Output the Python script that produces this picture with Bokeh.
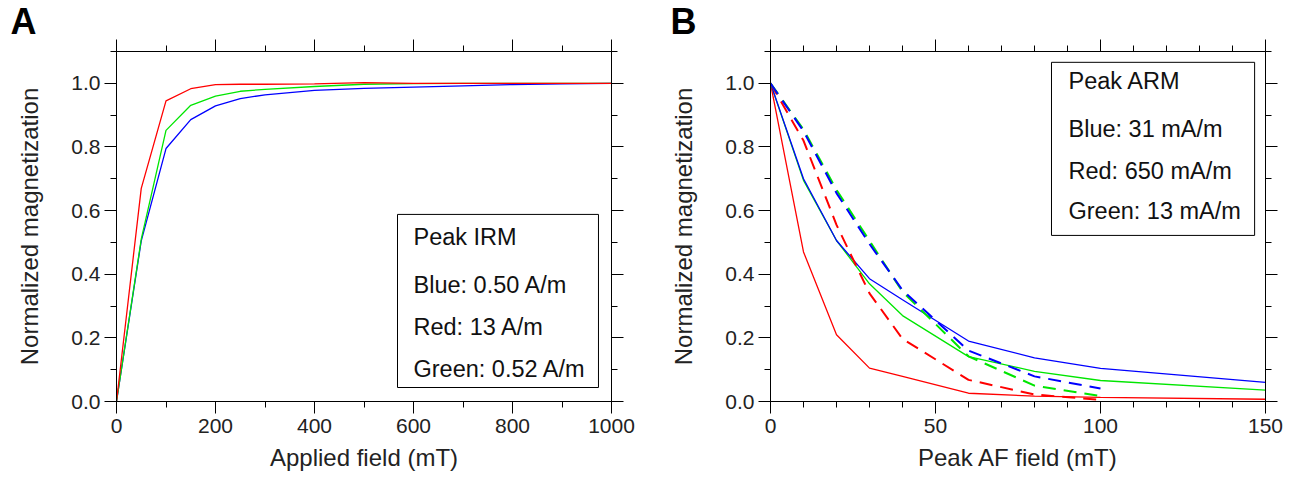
from bokeh.plotting import figure
from bokeh.models import (LinearAxis, SingleIntervalTicker, Range1d, Label,
                          BoxAnnotation, CustomJSTickFormatter, PrintfTickFormatter)
from bokeh.layouts import row
from bokeh.embed import file_html
from bokeh.resources import INLINE

# ---------------- data ----------------
# Panel A: IRM acquisition
irm_field = [0, 50, 100, 150, 200, 250, 300, 400, 500, 600, 700, 800, 900, 1000]
irm_red = [0.0, 0.67, 0.945, 0.983, 0.996, 0.997, 0.997, 0.998, 1.002, 1.0, 1.0, 1.0, 1.0, 1.0]
irm_green = [0.0, 0.51, 0.852, 0.931, 0.96, 0.975, 0.981, 0.99, 0.997, 0.999, 1.0, 1.0, 1.0, 1.0]
irm_blue = [0.0, 0.505, 0.795, 0.886, 0.929, 0.952, 0.964, 0.978, 0.984, 0.988, 0.992, 0.996, 0.998, 1.0]

# Panel B: AF demagnetization (solid = IRM, dashed = ARM)
af_field = [0, 10, 20, 30, 40, 60, 80, 100, 150]
af_red = [1.0, 0.47, 0.21, 0.105, 0.079, 0.026, 0.017, 0.013, 0.007]
af_green = [1.0, 0.695, 0.506, 0.37, 0.27, 0.141, 0.095, 0.066, 0.036]
af_blue = [1.0, 0.70, 0.506, 0.386, 0.32, 0.19, 0.137, 0.104, 0.06]

arm_field = [0, 10, 20, 30, 40, 60, 80, 100]
arm_red = [1.0, 0.82, 0.555, 0.34, 0.197, 0.068, 0.022, 0.005]
arm_green = [1.0, 0.855, 0.665, 0.505, 0.345, 0.142, 0.05, 0.017]
arm_blue = [1.0, 0.85, 0.655, 0.495, 0.35, 0.16, 0.079, 0.041]

irm_legend = ["Peak IRM", "Blue: 0.50 A/m", "Red: 13 A/m", "Green: 0.52 A/m"]
arm_legend = ["Peak ARM", "Blue: 31 mA/m", "Red: 650 mA/m", "Green: 13 mA/m"]

RED = "#ff0000"
GREEN = "#00e600"
BLUE = "#0000ff"
FONT = "Liberation Sans"
H = 481


def style_axis(ax, labels=True):
    ax.major_tick_out = 12
    ax.major_tick_in = 0
    ax.minor_tick_out = 6
    ax.minor_tick_in = 0
    ax.axis_line_color = "black"
    ax.major_tick_line_color = "black"
    ax.minor_tick_line_color = "black"
    ax.axis_line_width = 1
    if labels:
        ax.major_label_text_font = FONT
        ax.major_label_text_font_size = "21px"
        ax.major_label_text_color = "#222222"
        ax.axis_label_text_font = FONT
        ax.axis_label_text_font_size = "24px"
        ax.axis_label_text_font_style = "normal"
        ax.axis_label_text_color = "#222222"
    else:
        ax.formatter = CustomJSTickFormatter(code="return ''")
        ax.major_label_standoff = 0
        ax.major_label_text_font_size = "1px"


def make_fig(width, bl, br, xmax, xint, xminor, xlabel, letter, letter_dx):
    p = figure(width=width, height=H, output_backend="svg", toolbar_location=None,
               title=letter,
               x_range=Range1d(0, xmax), y_range=Range1d(0, 1.1),
               min_border_left=bl, min_border_right=br, min_border_top=51,
               min_border_bottom=80, x_axis_location=None, y_axis_location=None)
    p.title.text_font = FONT
    p.title.text_font_size = "36px"
    p.title.text_font_style = "bold"
    p.title.text_color = "black"
    p.title.align = "left"
    p.title.offset = letter_dx
    p.title.standoff = -4
    p.xgrid.visible = False
    p.ygrid.visible = False
    p.outline_line_color = None
    xt = SingleIntervalTicker(interval=xint, num_minor_ticks=xminor)
    yt = SingleIntervalTicker(interval=0.2, num_minor_ticks=2)
    bx = LinearAxis(ticker=xt, axis_label=xlabel)
    style_axis(bx)
    bx.major_label_standoff = 5
    bx.axis_label_standoff = 8
    ly = LinearAxis(ticker=yt, axis_label="Normalized magnetization",
                    formatter=PrintfTickFormatter(format="%.1f"))
    style_axis(ly)
    ly.major_label_standoff = 4
    ly.axis_label_standoff = 25
    tx = LinearAxis(ticker=SingleIntervalTicker(interval=xint, num_minor_ticks=xminor))
    style_axis(tx, labels=False)
    ry = LinearAxis(ticker=SingleIntervalTicker(interval=0.2, num_minor_ticks=2))
    style_axis(ry, labels=False)
    p.add_layout(bx, "below")
    p.add_layout(ly, "left")
    p.add_layout(tx, "above")
    p.add_layout(ry, "right")
    return p


def add_legend(p, lines, x0, x1, ytop, ybot, xt, ys):
    p.add_layout(BoxAnnotation(left=x0, right=x1, top=ytop, bottom=ybot,
                               fill_color="white", fill_alpha=1.0,
                               line_color="black", line_width=1, line_alpha=1.0))
    for t, y in zip(lines, ys):
        p.add_layout(Label(x=xt, y=y, text=t, text_font=FONT, text_font_size="23.5px",
                           text_color="#111111", text_baseline="middle"))


# ---------------- panel A ----------------
pA = make_fig(651, 116, 40, 1000, 200, 2, "Applied field (mT)", "A", -106)
lw = 1.3
pA.line(irm_field, irm_blue, line_color=BLUE, line_width=lw)
pA.line(irm_field, irm_green, line_color=GREEN, line_width=lw)
pA.line(irm_field, irm_red, line_color=RED, line_width=lw)
add_legend(pA, irm_legend, 567.7, 973.7, 0.588, 0.044, 600,
           [0.5157, 0.3648, 0.2327, 0.1006])

# ---------------- panel B ----------------
pB = make_fig(641, 119, 27, 150, 50, 5, "Peak AF field (mT)", "B", -100)
dash = "13 8"
pB.line(af_field, af_red, line_color=RED, line_width=lw)
pB.line(af_field, af_green, line_color=GREEN, line_width=lw)
pB.line(af_field, af_blue, line_color=BLUE, line_width=lw)
pB.line(arm_field, arm_red, line_color=RED, line_width=2, line_dash=dash)
pB.line(arm_field, arm_green, line_color=GREEN, line_width=2, line_dash=dash)
pB.line(arm_field, arm_blue, line_color=BLUE, line_width=2, line_dash=dash)
add_legend(pB, arm_legend, 85.15, 146.7, 1.066, 0.522, 90.3,
           [1.0063, 0.8553, 0.7233, 0.5975])

layout = row(pA, pB)
open("out.html", "w").write(file_html(layout, INLINE))
